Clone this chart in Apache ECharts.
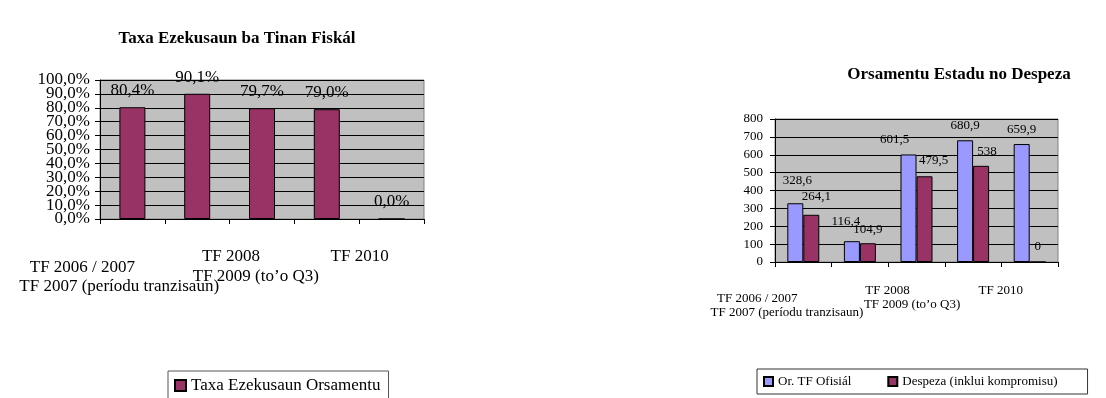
<!DOCTYPE html>
<html>
<head>
<meta charset="utf-8">
<script src="https://cdn.jsdelivr.net/npm/echarts@6/dist/echarts.min.js"></script>
<style>
  html, body { margin: 0; padding: 0; background: #fff; }
  #main { width: 1106px; height: 398px; }
</style>
</head>
<body>
<div id="main"></div>
<script>
// dadus
var categories = ['TF 2006 / 2007', 'TF 2007 (períodu tranzisaun)', 'TF 2008', 'TF 2009 (to’o Q3)', 'TF 2010'];
var taxaValues = [80.4, 90.1, 79.7, 79.0, 0];
var orsamentuValues = [328.6, 116.4, 601.5, 680.9, 659.9];
var despezaValues = [264.1, 104.9, 479.5, 538, 0];
var pctTicks = [0, 100, 10];      // min, max, interval
var valTicks = [0, 800, 100];

// category label nudges (padding top / right) - labels in the source are staggered
var leftNudge = [[32, 100], [51, 156], [21, 62], [41, 142], [21, 64]];
var rightNudge = [[22, 92], [36, 146], [14, 58], [28, 122], [14, 58]];
// value label offsets [dx, dy] on the right chart
var orsLabelOff = [[2, -8], [-6, -5], [-14, 0], [0, 0], [0, 0]];
var despLabelOff = [[5, -4], [0, 1], [9, -1], [6, 0], [0, 0]];

var serif = '"Liberation Serif", "Times New Roman", serif';

function richFrom(nudges) {
    var r = {};
    nudges.forEach(function (n, i) {
        r['s' + i] = { padding: [n[0], n[1], 0, 0] };
    });
    return r;
}
function comma(v) {
    return String(v).replace('.', ',');
}
function pct(v) {
    return v.toFixed(1).replace('.', ',') + '%';
}
function withOffsets(vals, offs) {
    return vals.map(function (v, i) {
        return { value: v, label: { offset: offs[i] } };
    });
}

// the % labels overlap each other, echarts drops neighbours of min/max,
// so the ends go on one axis and the inner ticks on a twin axis
var pctLabelBase = { margin: 10, color: '#000', fontFamily: serif, fontSize: 17 };

var chart = echarts.init(document.getElementById('main'));
chart.setOption({
    animation: false,
    title: [
        {
            text: 'Taxa Ezekusaun ba Tinan Fiskál',
            left: 232, top: 25, textAlign: 'center',
            textStyle: { fontFamily: serif, fontSize: 17, fontWeight: 'bold', color: '#000' }
        },
        {
            text: 'Orsamentu Estadu no Despeza',
            left: 954, top: 61, textAlign: 'center',
            textStyle: { fontFamily: serif, fontSize: 17, fontWeight: 'bold', color: '#000' }
        }
    ],
    legend: [
        {
            data: ['Taxa Ezekusaun Orsamentu'],
            left: 168, top: 371,
            itemWidth: 11, itemHeight: 11,
            icon: 'rect',
            borderColor: '#555', borderWidth: 1,
            padding: [6, 8, 6, 6],
            textStyle: { fontFamily: serif, fontSize: 17, color: '#000' }
        },
        {
            data: ['Or. TF Ofisiál', 'Despeza (inklui kompromisu)'],
            left: 757, top: 369,
            itemWidth: 9, itemHeight: 9, itemGap: 36,
            icon: 'rect',
            borderColor: '#333', borderWidth: 1,
            padding: [6, 30, 6, 6],
            textStyle: { fontFamily: serif, fontSize: 13, color: '#000' }
        }
    ],
    grid: [
        { left: 100, top: 80, width: 324, height: 139, show: true, backgroundColor: '#c0c0c0', borderColor: '#808080', borderWidth: 1 },
        { left: 775, top: 119, width: 283, height: 143, show: true, backgroundColor: '#c0c0c0', borderColor: '#808080', borderWidth: 1 }
    ],
    xAxis: [
        {
            type: 'category', gridIndex: 0, data: categories,
            axisLine: { lineStyle: { color: '#000' } },
            axisTick: { show: true, inside: false, length: 5, lineStyle: { color: '#000' } },
            axisLabel: {
                interval: 0, margin: 8, color: '#000', fontFamily: serif, fontSize: 17,
                formatter: function (v, i) { return '{s' + i + '|' + v + '}'; },
                rich: richFrom(leftNudge)
            }
        },
        {
            type: 'category', gridIndex: 1, data: categories,
            axisLine: { lineStyle: { color: '#000' } },
            axisTick: { show: true, inside: false, length: 5, lineStyle: { color: '#000' } },
            axisLabel: {
                interval: 0, margin: 8, color: '#000', fontFamily: serif, fontSize: 13,
                formatter: function (v, i) { return '{s' + i + '|' + v + '}'; },
                rich: richFrom(rightNudge)
            }
        }
    ],
    yAxis: [
        {
            type: 'value', gridIndex: 0, position: 'left',
            min: pctTicks[0], max: pctTicks[1], interval: pctTicks[2],
            axisLine: { show: true, lineStyle: { color: '#000' } },
            axisTick: { show: true, inside: false, length: 5, lineStyle: { color: '#000' } },
            splitLine: { lineStyle: { color: '#000', width: 1 } },
            axisLabel: Object.assign({}, pctLabelBase, {
                showMinLabel: true, showMaxLabel: true,
                formatter: function (v) {
                    return (v === pctTicks[0] || v === pctTicks[1]) ? pct(v) : '';
                }
            })
        },
        {
            type: 'value', gridIndex: 1,
            min: valTicks[0], max: valTicks[1], interval: valTicks[2],
            axisLine: { show: true, lineStyle: { color: '#000' } },
            axisTick: { show: true, inside: false, length: 5, lineStyle: { color: '#000' } },
            splitLine: { lineStyle: { color: '#000', width: 1 } },
            axisLabel: { margin: 12, color: '#000', fontFamily: serif, fontSize: 13, showMinLabel: true, showMaxLabel: true }
        },
        {
            type: 'value', gridIndex: 0, position: 'left', offset: 0,
            min: pctTicks[0], max: pctTicks[1], interval: pctTicks[2],
            axisLine: { show: false },
            axisTick: { show: false },
            splitLine: { show: false },
            axisLabel: Object.assign({}, pctLabelBase, {
                showMinLabel: false, showMaxLabel: false,
                formatter: pct
            })
        }
    ],
    series: [
        {
            name: 'Taxa Ezekusaun Orsamentu',
            type: 'bar', xAxisIndex: 0, yAxisIndex: 0,
            data: taxaValues,
            barWidth: 26,
            itemStyle: { color: '#993366', borderColor: '#000', borderWidth: 1 },
            label: {
                show: true, position: 'top', distance: 8,
                fontFamily: serif, fontSize: 17, color: '#000',
                formatter: function (p) { return pct(p.value); }
            }
        },
        {
            name: 'Or. TF Ofisiál',
            type: 'bar', xAxisIndex: 1, yAxisIndex: 1,
            data: withOffsets(orsamentuValues, orsLabelOff),
            barWidth: 16, barGap: '0%',
            itemStyle: { color: '#9999ff', borderColor: '#000', borderWidth: 1 },
            label: {
                show: true, position: 'top', distance: 8,
                fontFamily: serif, fontSize: 13, color: '#000',
                formatter: function (p) { return comma(p.value); }
            }
        },
        {
            name: 'Despeza (inklui kompromisu)',
            type: 'bar', xAxisIndex: 1, yAxisIndex: 1,
            data: withOffsets(despezaValues, despLabelOff),
            barWidth: 16, barGap: '0%',
            itemStyle: { color: '#993366', borderColor: '#000', borderWidth: 1 },
            label: {
                show: true, position: 'top', distance: 8,
                fontFamily: serif, fontSize: 13, color: '#000',
                formatter: function (p) { return comma(p.value); }
            }
        }
    ]
});
</script>
</body>
</html>
